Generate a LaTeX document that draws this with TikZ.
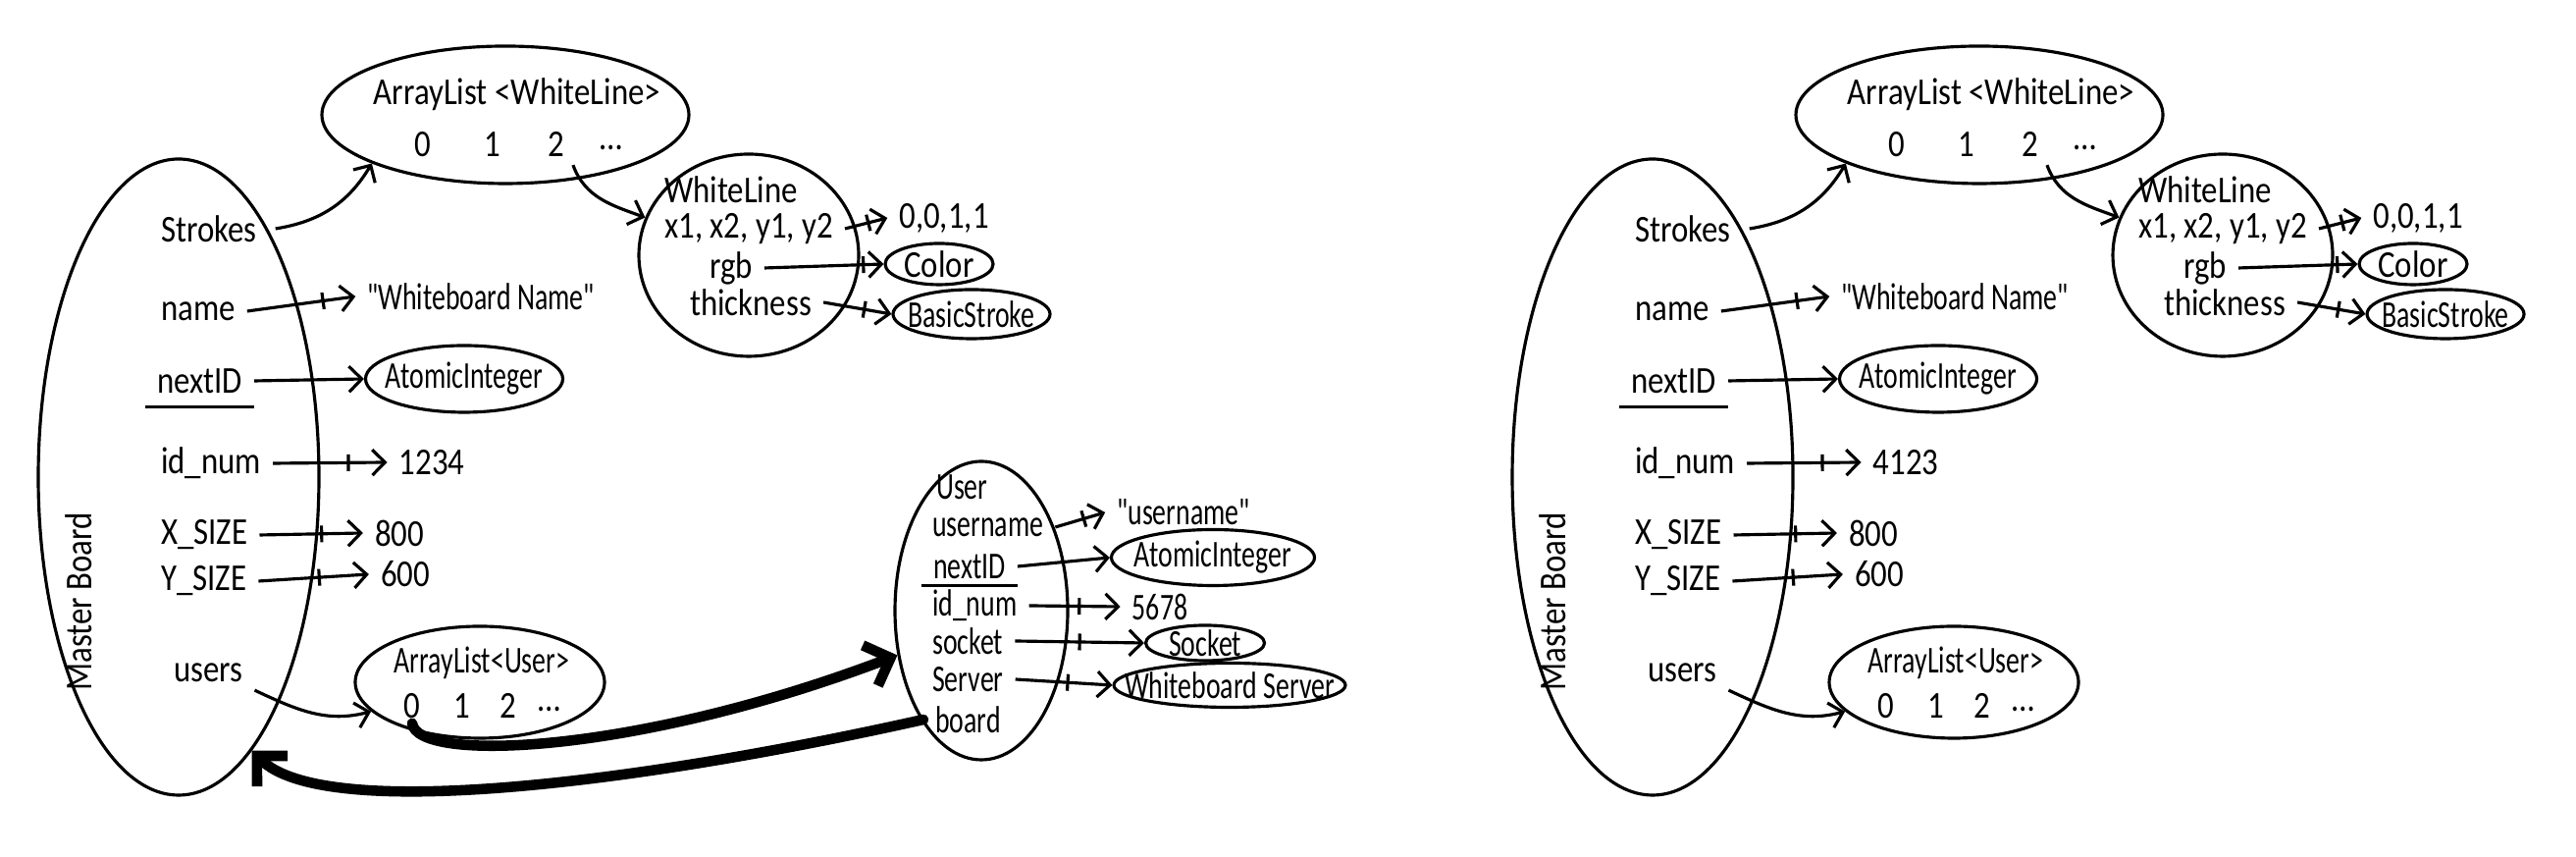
\documentclass[tikz,border=0pt]{standalone}
\usepackage{fontspec}
\setmainfont{Carlito}[FakeStretch=0.85]
\newfontfamily\narrowfont{Carlito}[FakeStretch=0.72]
\usetikzlibrary{shapes.geometric, arrows.meta}

\begin{document}
\begin{tikzpicture}[line width=0.9pt, font=\fontsize{11}{12}\selectfont,
    obj/.style 2 args={draw, ellipse, inner sep=0pt, minimum width=#1, minimum height=#2},
    field/.style={anchor=west, inner xsep=3pt, inner ysep=0pt},
    val/.style={inner xsep=3pt, inner ysep=0pt},
    txt/.style={inner sep=0pt},
    narrow/.style={font=\fontsize{11}{12}\narrowfont},
    ref/.style={-{Straight Barb[length=1.3mm, width=2.6mm]}},
    tickmark/.style={draw, minimum width=0pt, minimum height=0.17cm, inner sep=0pt, sloped},
    bigref/.style={line width=3pt, line cap=round, -{Straight Barb[length=2.2mm, width=4.4mm]}}]

  \useasboundingbox (0,0) rectangle (26.25,8.73);

  % the two boards: before and after
  \foreach \pre/\dx/\idval in {L/0/1234, R/15.02/4123} {
    \begin{scope}[xshift=\dx cm]
      % MasterBoard
      \node[obj={2.86cm}{6.48cm}] (\pre-board) at (1.82,3.87) {};
      \node[rotate=90] (\pre-boardlbl) at (0.80,2.60) {Master Board};

      % fields
      \node[field] (\pre-strokes) at (1.52,6.40) {Strokes};
      \node[field] (\pre-name) at (1.52,5.56) {name};
      \node[field] (\pre-nextid) at (1.48,4.85) {nextID};
      \draw ([yshift=-3.5pt]\pre-nextid.south west) -- ([yshift=-3.5pt]\pre-nextid.south east);
      \node[field] (\pre-idnum) at (1.52,4.01) {id\_num};
      \node[field] (\pre-xsize) at (1.52,3.28) {X\_SIZE};
      \node[field] (\pre-ysize) at (1.52,2.81) {Y\_SIZE};
      \node[field] (\pre-users) at (1.65,1.88) {users};

      % values
      \node[val, narrow] (\pre-nameval) at (4.90,5.71) {"Whiteboard Name"};
      \node[obj={2.01cm}{0.68cm}, label={[narrow]center:AtomicInteger}] (\pre-aint) at (4.73,4.87) {};
      \node[val] (\pre-idval) at (4.40,4.02) {\idval};
      \node[val] (\pre-xval) at (4.07,3.30) {800};
      \node[val] (\pre-yval) at (4.13,2.88) {600};

      % ArrayList<WhiteLine>
      \node[obj={3.74cm}{1.40cm}] (\pre-alist) at (5.15,7.56) {};
      \node[txt] (\pre-alisthead) at (5.27,7.77) {ArrayList <WhiteLine>};
      \node[txt] (\pre-a0) at (4.31,7.26) {0};
      \node[txt] (\pre-a1) at (5.02,7.26) {1};
      \node[txt] (\pre-a2) at (5.67,7.26) {2};
      \node[txt] (\pre-adots) at (6.23,7.23) {\dots};

      % WhiteLine
      \node[obj={2.24cm}{2.06cm}] (\pre-wline) at (7.63,6.13) {};
      \node[txt] (\pre-wlhead) at (7.45,6.80) {WhiteLine};
      \node[txt] (\pre-coords) at (7.63,6.40) {x1, x2, y1, y2};
      \node[txt] (\pre-rgb) at (7.45,6.00) {rgb};
      \node[txt] (\pre-thick) at (7.65,5.65) {thickness};
      \node[val] (\pre-cval) at (9.62,6.51) {0,0,1,1};
      \node[obj={1.10cm}{0.42cm}, label=center:Color] (\pre-color) at (9.57,6.04) {};
      \node[obj={1.60cm}{0.50cm}, label={[narrow]center:BasicStroke}] (\pre-bstroke) at (9.90,5.53) {};

      % ArrayList<User>
      \node[obj={2.54cm}{1.14cm}] (\pre-ulist) at (4.89,1.78) {};
      \node[txt, narrow] (\pre-ulhead) at (4.91,1.98) {ArrayList<User>};
      \node[txt] (\pre-u0) at (4.20,1.54) {0};
      \node[txt] (\pre-u1) at (4.71,1.54) {1};
      \node[txt] (\pre-u2) at (5.18,1.54) {2};
      \node[txt] (\pre-udots) at (5.60,1.51) {\dots};

      % references
      \draw[ref] ([xshift=2pt]\pre-strokes.east) to[bend right=25] (\pre-alist.-160);
      \draw[ref] ([shift={(2pt,-2pt)}]\pre-a2.south east) to[out=-70, in=160] (\pre-wline.160);
      \draw[ref] (\pre-name.east) -- node[tickmark, pos=.7] {} (\pre-nameval.west);
      \draw[ref] (\pre-nextid.east) -- (\pre-aint.west);
      \draw[ref] (\pre-idnum.east) -- node[tickmark, pos=.66] {} (\pre-idval.west);
      \draw[ref] (\pre-xsize.east) -- node[tickmark, pos=.6] {} (\pre-xval.west);
      \draw[ref] (\pre-ysize.east) -- node[tickmark, pos=.55] {} (\pre-yval.west);
      \draw[ref] ([shift={(0pt,-2pt)}]\pre-users.south east) to[out=-25, in=195] (\pre-ulist.-165);
      \draw[ref] ([xshift=3pt]\pre-coords.east) -- node[tickmark, pos=.55] {} (\pre-cval.west);
      \draw[ref] ([xshift=3pt]\pre-rgb.east) -- node[tickmark, pos=.83] {} (\pre-color.west);
      \draw[ref] ([xshift=3pt]\pre-thick.east) -- node[tickmark, pos=.6] {} (\pre-bstroke.west);
    \end{scope}
  }

  % User (only before)
  \begin{scope}[narrow]
    \node[obj={1.76cm}{3.04cm}] (user) at (10.00,2.51) {};
    \node[field] (user-head) at (9.42,3.77) {User};
    \node[field] (user-name) at (9.38,3.36) {username};
    \node[field] (user-nextid) at (9.39,2.96) {nextID};
    \draw ([yshift=-1.5pt]user-nextid.south west) -- ([yshift=-1.5pt]user-nextid.south east);
    \node[field] (user-idnum) at (9.38,2.56) {id\_num};
    \node[field] (user-socket) at (9.38,2.20) {socket};
    \node[field] (user-server) at (9.38,1.81) {Server};
    \node[field] (user-board) at (9.41,1.40) {board};

    \node[val] (user-nameval) at (12.06,3.51) {"username"};
    \node[obj={2.07cm}{0.57cm}, label={[narrow]center:AtomicInteger}] (user-aint) at (12.36,3.05) {};
    \node[val] (user-idval) at (11.82,2.55) {5678};
    \node[obj={1.21cm}{0.36cm}, label={[narrow]center:Socket}] (user-sock) at (12.28,2.18) {};
    \node[obj={2.36cm}{0.45cm}, label={[narrow]center:Whiteboard Server}] (user-wbs) at (12.53,1.75) {};

    \draw[ref] (user-name.east) -- node[tickmark, pos=.57] {} (user-nameval.west);
    \draw[ref] (user-nextid.east) -- (user-aint.west);
    \draw[ref] (user-idnum.east) -- node[tickmark, pos=.55] {} (user-idval.west);
    \draw[ref] (user-socket.east) -- node[tickmark, pos=.5] {} (user-sock.west);
    \draw[ref] (user-server.east) -- node[tickmark, pos=.54] {} (user-wbs.west);
  \end{scope}

  % list entry <-> user <-> board
  \draw[bigref] ([yshift=-1pt]L-u0.south) .. controls (4.25,0.95) and (6.5,1.05) .. (user.208);
  \draw[bigref] (user-board.west) .. controls (6.5,0.75) and (3.3,0.35) .. (L-board.-75);

\end{tikzpicture}
\end{document}
